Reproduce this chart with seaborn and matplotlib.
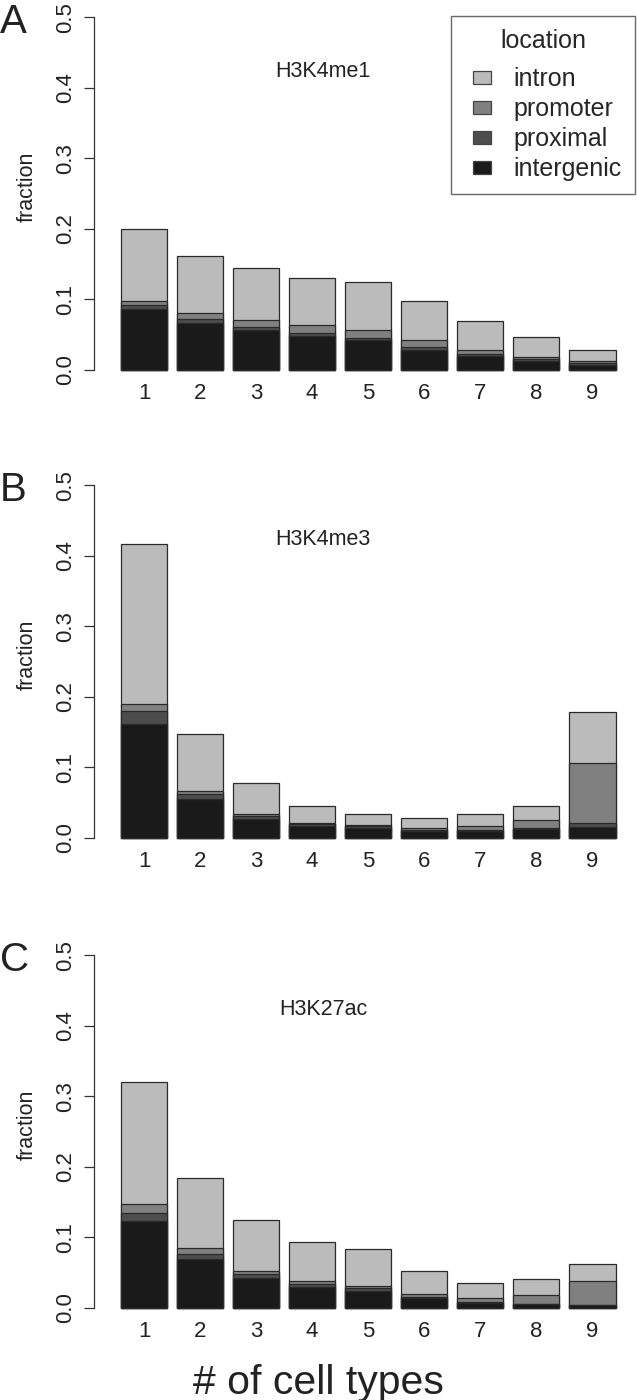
import numpy as np
import pandas as pd
import matplotlib
matplotlib.use("Agg")
import matplotlib.pyplot as plt
from matplotlib.patches import Patch, Rectangle
from matplotlib.legend_handler import HandlerPatch
import seaborn as sns

sns.set_theme(style="white")
plt.rcParams["font.family"] = ["Liberation Sans", "DejaVu Sans"]

cells = ["1", "2", "3", "4", "5", "6", "7", "8", "9"]
locations = ["intron", "promoter", "proximal", "intergenic"]
panel_titles = ["H3K4me1", "H3K4me3", "H3K27ac"]
panel_letters = ["A", "B", "C"]

# H3K4me1
a_intergenic = [0.086, 0.067, 0.057, 0.048, 0.0425, 0.028, 0.020, 0.012, 0.007]
a_proximal = [0.006, 0.005, 0.004, 0.005, 0.0035, 0.004, 0.003, 0.003, 0.0025]
a_promoter = [0.006, 0.009, 0.010, 0.011, 0.011, 0.010, 0.006, 0.004, 0.0025]
a_intron = [0.102, 0.081, 0.074, 0.067, 0.068, 0.056, 0.041, 0.028, 0.016]

# H3K4me3
b_intergenic = [0.162, 0.055, 0.027, 0.0175, 0.0137, 0.010, 0.0104, 0.0123, 0.015]
b_proximal = [0.018, 0.007, 0.004, 0.002, 0.0033, 0.001, 0.0006, 0.0014, 0.006]
b_promoter = [0.010, 0.005, 0.003, 0.0015, 0.002, 0.003, 0.0065, 0.0118, 0.085]
b_intron = [0.227, 0.081, 0.0435, 0.025, 0.015, 0.015, 0.0165, 0.0195, 0.073]

# H3K27ac
c_intergenic = [0.124, 0.070, 0.043, 0.030, 0.024, 0.0137, 0.0075, 0.0057, 0.0043]
c_proximal = [0.011, 0.0066, 0.005, 0.004, 0.004, 0.0013, 0.0005, 0.0003, 0.0004]
c_promoter = [0.012, 0.0081, 0.005, 0.0047, 0.0036, 0.005, 0.0057, 0.0124, 0.034]
c_intron = [0.173, 0.1003, 0.072, 0.0553, 0.0514, 0.033, 0.0223, 0.0223, 0.0237]

yticks = [0.0, 0.1, 0.2, 0.3, 0.4, 0.5]
ytick_labels = ["0.0", "0.1", "0.2", "0.3", "0.4", "0.5"]

colors = {"intron": "#bbbbbb", "promoter": "#808080",
          "proximal": "#4d4d4d", "intergenic": "#1a1a1a"}
edge = "#2a2a2a"
txt = "#222222"

panels = [
    (a_intergenic, a_proximal, a_promoter, a_intron),
    (b_intergenic, b_proximal, b_promoter, b_intron),
    (c_intergenic, c_proximal, c_promoter, c_intron),
]

W, H = 637, 1400
fig = plt.figure(figsize=(W / 100, H / 100), dpi=100)

boxes = [(3.4, 377), (471.4, 845), (941.4, 1315)]
left_px = 94

SW_W, SW_H = 13.0, 9.4  # swatch size in points


def small_swatch(legend, orig_handle, xdescent, ydescent, width, height, fontsize):
    return Rectangle((-xdescent + width - SW_W, -ydescent + (height - SW_H) / 2),
                     SW_W, SW_H)


for i, ((ig, px, pr, it), (top, bot)) in enumerate(zip(panels, boxes)):
    ax = fig.add_axes([left_px / W, 1 - bot / H, (W - left_px) / W, (bot - top) / H])
    s1 = np.array(ig)
    s2 = s1 + np.array(px)
    s3 = s2 + np.array(pr)
    s4 = s3 + np.array(it)
    for vals, loc in [(s4, "intron"), (s3, "promoter"), (s2, "proximal"), (s1, "intergenic")]:
        df = pd.DataFrame({"cells": cells, "fraction": vals})
        sns.barplot(data=df, x="cells", y="fraction", color=colors[loc],
                    saturation=1, edgecolor=edge, linewidth=0.9,
                    width=0.833, ax=ax, errorbar=None)
    ax.set_xlim(-0.893, 8.80)
    ax.set_ylim(-0.01, 0.52)
    for sp in ["top", "right", "bottom"]:
        ax.spines[sp].set_visible(False)
    ax.spines["left"].set_bounds(0, 0.5)
    ax.spines["left"].set_color("#333333")
    ax.spines["left"].set_linewidth(0.9)
    ax.set_yticks(yticks)
    ax.set_yticklabels(ytick_labels, rotation=90, va="center")
    ax.tick_params(axis="y", left=True, length=7, width=0.9, color="#333333",
                   pad=6, labelsize=16, labelcolor=txt)
    ax.tick_params(axis="x", bottom=False, length=0, pad=4, labelsize=16,
                   labelcolor=txt)
    ax.set_xlabel("")
    ax.set_ylabel("fraction", fontsize=15.5, color=txt)
    ax.yaxis.set_label_coords((38 - left_px) / (W - left_px), 0.509)
    ax.text(3.2, 0.423, panel_titles[i], ha="center", va="center",
            fontsize=15.5, color=txt)
    fig.text(0 / W, 1 - (top + 19) / H, panel_letters[i], ha="left",
             va="center", fontsize=29, color=txt)
    if i == 0:
        handles = [Patch(facecolor=colors[l], edgecolor="#444444", linewidth=0.9)
                   for l in locations]
        leg = ax.legend(handles, locations, title="location",
                        loc="upper right",
                        bbox_to_anchor=(635 / W, 1 - 16 / H),
                        bbox_transform=fig.transFigure,
                        fontsize=18, title_fontsize=18,
                        frameon=True, fancybox=False,
                        handlelength=1.1, handleheight=0.7,
                        handletextpad=0.9, labelspacing=0.24,
                        borderpad=0.52, borderaxespad=0,
                        handler_map={Patch: HandlerPatch(patch_func=small_swatch)})
        leg._legend_box.sep = 10
        leg.get_frame().set_edgecolor("#444444")
        leg.get_frame().set_linewidth(1.0)

fig.text(318 / W, 1 - 1383 / H, "# of cell types", ha="center", va="center",
         fontsize=29.5, color=txt)

fig.savefig("out.png", dpi=100)
